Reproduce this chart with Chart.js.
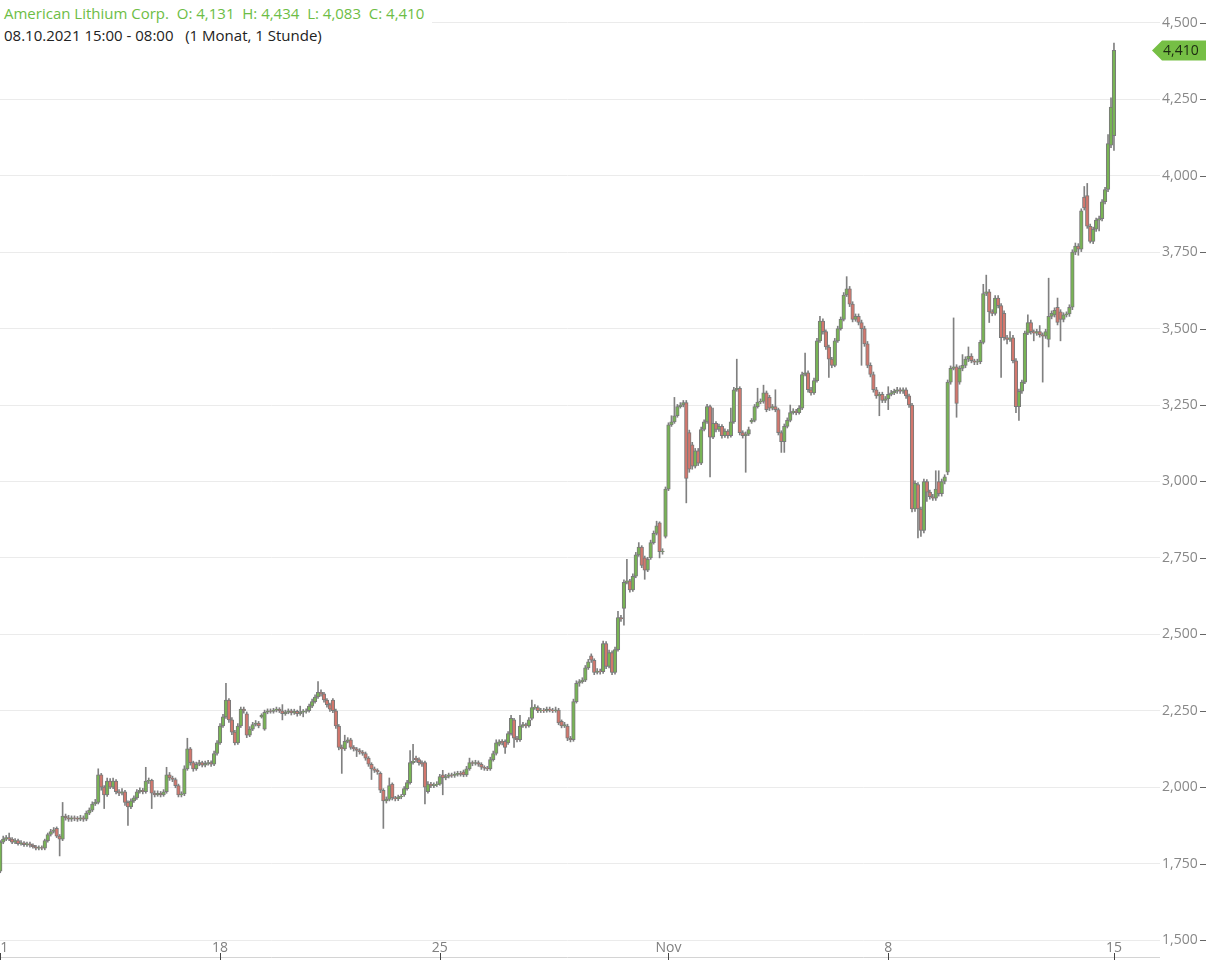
<!DOCTYPE html>
<html>
<head>
<meta charset="utf-8">
<script src="https://cdn.jsdelivr.net/npm/chart.js@4.4.1/dist/chart.umd.min.js"></script>
<style>
html, body { margin: 0; padding: 0; background: #fff; overflow: hidden; }
body { width: 1206px; height: 960px; position: relative; font-family: 'Open Sans', sans-serif; }
#wrap { position: absolute; left: -25px; top: 0; width: 1231px; height: 960px; }
#title { position: absolute; left: 0; top: 0; padding: 2px 8px 2px 4px; background: #fff; font-size: 15px; line-height: 22px; white-space: nowrap; }
#title .l1 { color: #6dbd45; }
#title .l2 { color: #222; }
</style>
</head>
<body>
<div id="wrap"><canvas id="myChart" width="1231" height="960"></canvas></div>
<div id="title">
  <div class="l1">American Lithium Corp.&nbsp; O: 4,131&nbsp; H: 4,434&nbsp; L: 4,083&nbsp; C: 4,410</div>
  <div class="l2">08.10.2021 15:00 - 08:00&nbsp;&nbsp; (1 Monat, 1 Stunde)</div>
</div>
<script>
// trading sessions: [date, first hour, number of hourly candles]
const sessions = [
    ['08.10.', 15, 8],
    ['11.10.', 8, 15], ['12.10.', 8, 15], ['13.10.', 8, 15], ['14.10.', 8, 15], ['15.10.', 8, 14],
    ['18.10.', 8, 15], ['19.10.', 8, 15], ['20.10.', 8, 15], ['21.10.', 8, 15], ['22.10.', 8, 14],
    ['25.10.', 8, 16], ['26.10.', 8, 15], ['27.10.', 8, 15], ['28.10.', 8, 16], ['29.10.', 8, 15],
    ['01.11.', 8, 15], ['02.11.', 8, 15], ['03.11.', 8, 15], ['04.11.', 8, 15], ['05.11.', 8, 14],
    ['08.11.', 8, 15], ['09.11.', 8, 15], ['10.11.', 8, 16], ['11.11.', 8, 15], ['12.11.', 8, 15],
    ['15.11.', 8, 1]
];

const tickDates = ['11.10.', '18.10.', '25.10.', '01.11.', '08.11.', '15.11.'];
const tickNames = ['11', '18', '25', 'Nov', '8', '15'];

const open = [
    1.695,1.700,1.690,1.705,1.712,1.700,1.715,1.720,
    1.725,1.820,1.830,1.835,1.830,1.820,1.825,1.815,1.818,1.812,1.815,1.810,1.805,1.800,1.802,
    1.800,1.825,1.845,1.855,1.865,1.840,1.830,1.905,1.900,1.895,1.900,1.898,1.895,1.900,1.895,
    1.915,1.925,1.945,1.950,2.040,2.000,1.975,2.020,2.000,2.020,1.985,1.980,1.985,1.950,1.935,
    1.955,1.965,1.985,1.990,1.985,2.020,2.022,1.980,1.975,1.980,1.975,1.985,2.040,2.030,2.025,
    2.005,1.975,1.978,2.060,2.125,2.080,2.060,2.075,2.080,2.072,2.078,2.080,2.075,2.110,
    2.145,2.200,2.230,2.285,2.220,2.180,2.145,2.200,2.255,2.240,2.170,2.190,2.205,2.210,2.230,
    2.190,2.245,2.250,2.248,2.252,2.255,2.250,2.240,2.245,2.250,2.243,2.248,2.240,2.245,2.248,
    2.250,2.265,2.280,2.295,2.310,2.305,2.285,2.270,2.285,2.250,2.200,2.130,2.125,2.150,2.155,
    2.130,2.125,2.120,2.115,2.110,2.095,2.075,2.060,2.055,2.045,1.990,1.955,1.960,2.010,1.965,
    1.962,1.968,1.975,1.995,2.015,2.080,2.095,2.090,2.080,2.080,1.985,2.010,2.005,2.008,
    2.010,2.040,2.030,2.035,2.040,2.038,2.042,2.045,2.050,2.040,2.060,2.080,2.078,2.080,2.075,2.065,
    2.062,2.060,2.090,2.110,2.140,2.150,2.150,2.145,2.175,2.220,2.160,2.155,2.200,2.205,2.200,
    2.225,2.260,2.260,2.250,2.252,2.250,2.255,2.252,2.250,2.252,2.215,2.200,2.200,2.160,2.155,
    2.280,2.340,2.345,2.350,2.390,2.430,2.415,2.375,2.380,2.378,2.470,2.395,2.440,2.375,2.450,2.555,
    2.585,2.670,2.675,2.645,2.690,2.760,2.785,2.750,2.710,2.750,2.800,2.830,2.865,2.770,2.820,
    2.975,3.185,3.195,3.215,3.245,3.250,3.258,3.160,3.120,3.050,3.100,3.060,3.170,3.195,3.245,
    3.145,3.190,3.170,3.180,3.150,3.165,3.150,3.195,3.300,3.305,3.160,3.150,3.155,3.195,3.200,
    3.245,3.260,3.262,3.290,3.275,3.240,3.245,3.235,3.160,3.130,3.180,3.200,3.225,3.230,3.225,
    3.240,3.350,3.355,3.300,3.290,3.330,3.460,3.525,3.490,3.440,3.400,3.380,3.460,3.500,3.530,
    3.610,3.630,3.580,3.530,3.540,3.520,3.500,3.450,3.380,3.350,3.300,3.280,3.285,3.265,
    3.270,3.285,3.290,3.295,3.300,3.295,3.300,3.280,3.250,2.910,2.990,2.910,2.840,3.000,2.965,
    2.950,2.945,3.000,2.960,3.000,3.030,3.325,3.370,3.375,3.325,3.370,3.380,3.400,3.410,3.395,
    3.390,3.392,3.455,3.615,3.620,3.555,3.550,3.600,3.575,3.550,3.470,3.465,3.470,3.395,3.245,3.295,
    3.325,3.485,3.520,3.490,3.485,3.490,3.480,3.475,3.465,3.540,3.545,3.570,3.555,3.530,3.545,
    3.548,3.570,3.750,3.770,3.760,3.930,3.935,3.835,3.785,3.825,3.855,3.860,3.915,3.955,4.100,
    4.131
];

const high = [
    1.710,1.705,1.715,1.720,1.718,1.722,1.728,1.732,
    1.825,1.840,1.842,1.850,1.835,1.832,1.830,1.825,1.822,1.820,1.820,1.815,1.810,1.808,1.808,
    1.830,1.850,1.862,1.868,1.870,1.845,1.950,1.912,1.908,1.906,1.906,1.904,1.908,1.906,1.922,
    1.932,1.952,1.960,2.060,2.045,2.005,2.030,2.028,2.030,2.025,1.992,1.995,1.990,1.955,1.962,
    1.972,1.992,1.998,1.996,2.065,2.030,2.026,1.988,1.988,1.986,1.992,2.065,2.048,2.036,2.030,
    2.010,1.985,2.070,2.160,2.130,2.085,2.082,2.088,2.085,2.085,2.088,2.086,2.118,2.152,
    2.208,2.238,2.340,2.290,2.228,2.186,2.208,2.262,2.262,2.246,2.198,2.212,2.218,2.215,2.240,
    2.252,2.256,2.256,2.258,2.262,2.260,2.270,2.252,2.256,2.255,2.255,2.252,2.265,2.254,2.256,
    2.272,2.288,2.302,2.345,2.318,2.310,2.290,2.275,2.290,2.255,2.205,2.138,2.170,2.162,2.160,
    2.136,2.130,2.126,2.120,2.115,2.100,2.080,2.066,2.060,2.050,1.995,1.968,2.030,2.014,1.970,
    1.974,1.976,2.002,2.022,2.120,2.140,2.102,2.096,2.086,2.085,2.018,2.016,2.014,2.018,
    2.042,2.055,2.042,2.046,2.046,2.050,2.052,2.052,2.056,2.068,2.095,2.086,2.088,2.086,2.080,2.070,
    2.068,2.098,2.118,2.155,2.155,2.156,2.155,2.182,2.235,2.225,2.166,2.235,2.212,2.210,2.228,
    2.285,2.270,2.266,2.258,2.258,2.262,2.262,2.258,2.262,2.258,2.220,2.212,2.206,2.166,2.288,
    2.348,2.352,2.358,2.398,2.418,2.436,2.420,2.388,2.386,2.478,2.476,2.448,2.446,2.458,2.575,2.562,
    2.678,2.745,2.680,2.698,2.768,2.800,2.790,2.756,2.752,2.808,2.838,2.870,2.868,2.780,2.982,
    3.192,3.215,3.275,3.252,3.258,3.265,3.265,3.168,3.128,3.108,3.108,3.178,3.202,3.252,3.250,
    3.240,3.196,3.188,3.186,3.172,3.170,3.240,3.308,3.400,3.310,3.166,3.162,3.178,3.206,3.252,
    3.305,3.270,3.315,3.296,3.282,3.252,3.300,3.240,3.166,3.188,3.208,3.250,3.238,3.236,3.248,
    3.358,3.420,3.362,3.308,3.338,3.468,3.540,3.532,3.496,3.446,3.406,3.468,3.508,3.538,3.618,
    3.670,3.638,3.588,3.548,3.548,3.528,3.508,3.458,3.388,3.358,3.308,3.292,3.292,3.278,
    3.310,3.298,3.302,3.308,3.306,3.306,3.306,3.286,3.256,3.002,2.996,2.916,3.008,3.006,2.972,
    2.958,3.035,3.035,3.008,3.022,3.332,3.378,3.535,3.382,3.378,3.415,3.408,3.440,3.418,3.400,
    3.400,3.462,3.645,3.675,3.628,3.562,3.608,3.608,3.582,3.558,3.478,3.490,3.478,3.402,3.302,3.332,
    3.492,3.545,3.528,3.496,3.498,3.510,3.486,3.498,3.665,3.558,3.568,3.600,3.562,3.552,3.555,
    3.578,3.758,3.780,3.778,3.892,3.965,3.975,3.842,3.832,3.862,3.868,3.922,3.962,4.135,4.255,
    4.434
];

const low = [
    1.685,1.680,1.685,1.700,1.695,1.695,1.710,1.712,
    1.720,1.815,1.825,1.825,1.815,1.815,1.810,1.810,1.806,1.806,1.804,1.800,1.795,1.795,1.795,
    1.795,1.820,1.840,1.850,1.835,1.775,1.825,1.892,1.888,1.888,1.890,1.888,1.890,1.888,1.890,
    1.910,1.920,1.940,1.945,1.990,1.930,1.970,1.995,1.995,1.978,1.972,1.975,1.940,1.875,1.930,
    1.950,1.960,1.980,1.978,1.980,2.012,1.930,1.968,1.970,1.968,1.970,1.980,2.022,2.018,1.998,
    1.968,1.968,1.972,2.055,2.072,2.052,2.055,2.070,2.066,2.066,2.072,2.068,2.070,2.105,
    2.140,2.195,2.225,2.212,2.172,2.138,2.140,2.195,2.242,2.162,2.165,2.185,2.200,2.194,2.226,
    2.186,2.240,2.242,2.242,2.246,2.244,2.220,2.235,2.240,2.236,2.238,2.232,2.235,2.230,2.242,
    2.245,2.260,2.275,2.290,2.298,2.278,2.262,2.248,2.244,2.192,2.122,2.045,2.120,2.145,2.124,
    2.118,2.100,2.108,2.104,2.088,2.068,2.025,2.048,2.042,1.982,1.865,1.948,1.955,1.958,1.955,
    1.956,1.962,1.970,1.990,2.010,2.075,2.082,2.072,2.068,1.945,1.980,1.998,1.998,2.002,
    2.006,1.975,2.024,2.030,2.032,2.032,2.036,2.036,2.034,2.035,2.055,2.070,2.072,2.068,2.058,2.055,
    2.054,2.055,2.085,2.105,2.135,2.138,2.110,2.140,2.170,2.130,2.148,2.150,2.195,2.194,2.196,
    2.220,2.254,2.244,2.244,2.244,2.245,2.246,2.244,2.245,2.204,2.194,2.195,2.152,2.148,2.150,
    2.275,2.330,2.340,2.345,2.385,2.408,2.368,2.370,2.370,2.372,2.388,2.390,2.368,2.370,2.445,2.542,
    2.530,2.665,2.638,2.640,2.685,2.755,2.718,2.680,2.705,2.745,2.795,2.825,2.750,2.762,2.815,
    2.970,3.180,3.190,3.210,3.240,3.244,2.930,3.030,3.040,3.044,3.052,3.055,3.165,3.190,3.015,
    3.140,3.162,3.164,3.142,3.144,3.142,3.145,3.190,3.295,3.152,3.142,3.030,3.150,3.190,3.195,
    3.240,3.254,3.256,3.228,3.232,3.234,3.228,3.152,3.095,3.095,3.175,3.195,3.220,3.218,3.220,
    3.235,3.345,3.292,3.282,3.285,3.325,3.455,3.482,3.432,3.340,3.372,3.375,3.455,3.495,3.525,
    3.605,3.572,3.522,3.524,3.512,3.380,3.442,3.372,3.342,3.292,3.272,3.215,3.258,3.258,
    3.235,3.280,3.284,3.288,3.288,3.288,3.272,3.242,2.900,2.902,2.815,2.820,2.832,2.935,2.942,
    2.938,2.938,2.952,2.952,2.992,3.022,3.318,3.365,3.210,3.318,3.362,3.372,3.392,3.388,3.382,
    3.382,3.385,3.450,3.608,3.520,3.542,3.544,3.568,3.340,3.462,3.450,3.458,3.388,3.225,3.200,3.288,
    3.320,3.480,3.482,3.460,3.478,3.472,3.325,3.468,3.440,3.532,3.538,3.512,3.460,3.522,3.538,
    3.540,3.562,3.742,3.740,3.752,3.888,3.828,3.780,3.778,3.818,3.820,3.852,3.908,3.948,4.092,
    4.083
];

const close = [
    1.700,1.690,1.705,1.712,1.700,1.715,1.720,1.725,
    1.820,1.830,1.835,1.830,1.820,1.825,1.815,1.818,1.812,1.815,1.810,1.805,1.800,1.802,1.800,
    1.825,1.845,1.855,1.860,1.840,1.830,1.905,1.900,1.895,1.900,1.898,1.895,1.900,1.895,1.915,
    1.925,1.945,1.950,2.040,2.000,1.975,2.020,2.000,2.020,1.985,1.980,1.985,1.950,1.935,1.955,
    1.965,1.985,1.990,1.985,2.020,2.022,1.980,1.975,1.980,1.975,1.985,2.040,2.030,2.025,2.005,
    1.975,1.978,2.060,2.125,2.080,2.060,2.075,2.080,2.072,2.078,2.080,2.075,2.110,2.145,
    2.200,2.230,2.285,2.220,2.180,2.145,2.200,2.255,2.250,2.170,2.190,2.205,2.210,2.200,2.235,
    2.245,2.250,2.248,2.252,2.255,2.250,2.240,2.245,2.250,2.243,2.248,2.240,2.245,2.248,2.250,
    2.265,2.280,2.295,2.310,2.305,2.285,2.270,2.255,2.250,2.200,2.130,2.125,2.150,2.155,2.130,
    2.125,2.120,2.115,2.110,2.095,2.075,2.060,2.055,2.050,1.990,1.955,1.960,2.005,1.965,1.962,
    1.968,1.970,1.995,2.015,2.080,2.085,2.090,2.080,2.075,2.000,2.010,2.005,2.008,2.010,
    2.035,2.030,2.035,2.040,2.038,2.042,2.045,2.042,2.040,2.060,2.080,2.078,2.080,2.075,2.065,2.062,
    2.060,2.090,2.110,2.145,2.148,2.145,2.130,2.175,2.225,2.160,2.155,2.200,2.205,2.200,2.220,
    2.260,2.262,2.250,2.252,2.250,2.255,2.252,2.250,2.253,2.210,2.200,2.205,2.160,2.155,2.280,
    2.340,2.345,2.350,2.390,2.410,2.415,2.375,2.380,2.378,2.470,2.395,2.440,2.375,2.450,2.555,2.550,
    2.670,2.675,2.645,2.690,2.760,2.785,2.725,2.710,2.745,2.800,2.830,2.855,2.770,2.772,2.975,
    3.185,3.195,3.215,3.245,3.250,3.258,3.010,3.040,3.050,3.100,3.060,3.170,3.195,3.245,3.145,
    3.190,3.170,3.180,3.150,3.165,3.150,3.195,3.300,3.305,3.160,3.150,3.155,3.170,3.200,3.245,
    3.260,3.262,3.290,3.235,3.240,3.245,3.235,3.160,3.130,3.180,3.200,3.225,3.230,3.225,3.240,
    3.350,3.355,3.300,3.290,3.330,3.460,3.525,3.490,3.440,3.400,3.380,3.460,3.500,3.530,3.610,
    3.630,3.580,3.530,3.540,3.520,3.500,3.450,3.380,3.350,3.300,3.280,3.285,3.265,3.270,
    3.285,3.290,3.295,3.300,3.295,3.300,3.280,3.250,2.910,2.995,2.910,2.840,3.000,2.965,2.950,
    2.945,2.975,2.960,3.000,3.015,3.325,3.370,3.375,3.255,3.370,3.380,3.400,3.410,3.395,3.390,
    3.392,3.455,3.615,3.620,3.555,3.550,3.600,3.575,3.470,3.470,3.465,3.470,3.395,3.245,3.295,3.325,
    3.485,3.520,3.490,3.485,3.490,3.480,3.475,3.490,3.540,3.550,3.560,3.520,3.530,3.545,3.548,
    3.570,3.750,3.770,3.760,3.885,3.895,3.835,3.785,3.825,3.855,3.860,3.915,3.955,4.105,4.225,
    4.410
];

const upColor = '#78b455';
const downColor = '#d2776d';
const edgeColor = '#7a7a7a';

// hourly category labels, plus some empty room on the right
let labels = [];
sessions.forEach(([day, firstHour, count]) => {
    for (let k = 0; k < count; k++) {
        labels.push(day + ' ' + String(firstHour + k).padStart(2, '0') + ':00');
    }
});
for (let k = 0; k < 15; k++) labels.push('');

let tickIdx = new Map();
labels.forEach((lab, i) => {
    const j = tickDates.indexOf(lab.slice(0, 6));
    if (j >= 0 && lab.endsWith(' 08:00')) tickIdx.set(i, tickNames[j]);
});

const fmt = v => v.toFixed(3).replace('.', ',');

Chart.defaults.font.family = "'Open Sans', sans-serif";

const extras = {
    id: 'extras',
    afterDraw(chart) {
        const { ctx, chartArea, scales } = chart;
        const x = scales.x, y = scales.y;
        ctx.save();
        ctx.lineWidth = 1;
        // bottom axis line with week ticks
        ctx.strokeStyle = '#d4d4d4';
        ctx.beginPath();
        ctx.moveTo(0, 957.5);
        ctx.lineTo(chartArea.right, 957.5);
        ctx.stroke();
        ctx.strokeStyle = '#444';
        tickIdx.forEach((name, i) => {
            const px = Math.round(x.getPixelForValue(i)) + 0.5;
            ctx.beginPath();
            ctx.moveTo(px, 953);
            ctx.lineTo(px, 960);
            ctx.stroke();
        });
        // small dashes after the price labels
        ctx.strokeStyle = '#666';
        y.ticks.forEach(t => {
            const py = Math.round(y.getPixelForValue(t.value)) + 0.5;
            ctx.beginPath();
            ctx.moveTo(chart.width - 6, py);
            ctx.lineTo(chart.width, py);
            ctx.stroke();
        });
        // last price tag
        const last = close[close.length - 1];
        const py = y.getPixelForValue(last);
        const bx = chartArea.right + 2;
        ctx.fillStyle = '#76bf45';
        ctx.beginPath();
        ctx.moveTo(bx - 10, py);
        ctx.lineTo(bx, py - 10);
        ctx.lineTo(chart.width, py - 10);
        ctx.lineTo(chart.width, py + 10);
        ctx.lineTo(bx, py + 10);
        ctx.closePath();
        ctx.fill();
        ctx.fillStyle = '#1d2b12';
        ctx.font = "14px 'Open Sans', sans-serif";
        ctx.textBaseline = 'middle';
        ctx.textAlign = 'left';
        ctx.fillText(fmt(last), bx + 1, py + 1);
        ctx.restore();
    }
};

let data = {
    labels: labels,
    datasets: [{
        label: 'body',
        data: open.map((o, i) => [o, close[i]]),
        backgroundColor: open.map((o, i) => close[i] >= o ? upColor : downColor),
        borderColor: edgeColor,
        borderWidth: 1,
        borderSkipped: false,
        barThickness: 3.6,
        grouped: false
    }, {
        label: 'wick',
        data: low.map((l, i) => [l, high[i]]),
        backgroundColor: '#808080',
        borderWidth: 0,
        barThickness: 1,
        grouped: false
    }]
};

let config = {
    type: 'bar',
    data: data,
    options: {
        responsive: false,
        animation: false,
        layout: { padding: 0 },
        plugins: {
            legend: { display: false },
            tooltip: { enabled: false }
        },
        scales: {
            x: {
                type: 'category',
                offset: true,
                border: { display: false },
                grid: {
                    offset: false,
                    drawTicks: false,
                    color: c => tickIdx.has(c.index) ? '#e9e9e9' : 'rgba(0,0,0,0)',
                    lineWidth: c => tickIdx.has(c.index) ? 1 : 0
                },
                ticks: {
                    autoSkip: false,
                    maxRotation: 0,
                    padding: 0,
                    color: '#808080',
                    font: { size: 14 },
                    callback: (v, i) => tickIdx.has(i) ? tickIdx.get(i) : null
                },
                afterFit: s => { s.height = 20; s.paddingLeft = 0; s.paddingRight = 0; }
            },
            y: {
                position: 'right',
                min: 1.5,
                max: 4.575,
                border: { display: false },
                grid: { color: '#ebebeb', drawTicks: false },
                ticks: {
                    stepSize: 0.25,
                    includeBounds: false,
                    padding: 2,
                    color: '#888',
                    font: { size: 14 },
                    callback: v => fmt(v)
                },
                afterFit: s => { s.width = 46; s.paddingTop = 0; s.paddingBottom = 0; }
            }
        }
    },
    plugins: [extras]
};

let myChart = new Chart(document.getElementById('myChart'), config);
</script>
</body>
</html>
